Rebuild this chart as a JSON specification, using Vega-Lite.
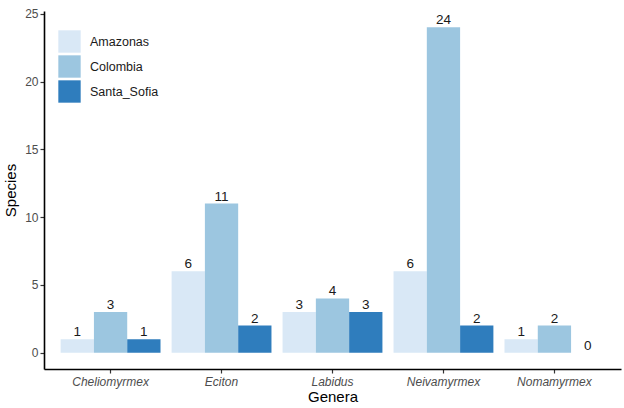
{
  "$schema": "https://vega.github.io/schema/vega-lite/v6.json",
  "width": 577,
  "height": 358,
  "autosize": "none",
  "padding": {"left": 44, "top": 11, "right": 3, "bottom": 39},
  "config": {
    "view": {"stroke": null},
    "font": "Liberation Sans",
    "axis": {
      "domainColor": "#000000",
      "domainWidth": 1.6,
      "tickColor": "#333333",
      "tickSize": 4,
      "tickWidth": 1.2,
      "labelColor": "#4d4d4d",
      "labelFontSize": 12,
      "titleColor": "#000000",
      "titleFontSize": 15,
      "titleFontWeight": "normal",
      "grid": false
    }
  },
  "data": {
    "values": [
      {"genus": "Cheliomyrmex", "site": "Amazonas", "species": 1},
      {"genus": "Cheliomyrmex", "site": "Colombia", "species": 3},
      {"genus": "Cheliomyrmex", "site": "Santa_Sofia", "species": 1},
      {"genus": "Eciton", "site": "Amazonas", "species": 6},
      {"genus": "Eciton", "site": "Colombia", "species": 11},
      {"genus": "Eciton", "site": "Santa_Sofia", "species": 2},
      {"genus": "Labidus", "site": "Amazonas", "species": 3},
      {"genus": "Labidus", "site": "Colombia", "species": 4},
      {"genus": "Labidus", "site": "Santa_Sofia", "species": 3},
      {"genus": "Neivamyrmex", "site": "Amazonas", "species": 6},
      {"genus": "Neivamyrmex", "site": "Colombia", "species": 24},
      {"genus": "Neivamyrmex", "site": "Santa_Sofia", "species": 2},
      {"genus": "Nomamyrmex", "site": "Amazonas", "species": 1},
      {"genus": "Nomamyrmex", "site": "Colombia", "species": 2},
      {"genus": "Nomamyrmex", "site": "Santa_Sofia", "species": 0}
    ]
  },
  "encoding": {
    "x": {
      "field": "genus",
      "type": "nominal",
      "sort": null,
      "scale": {"paddingInner": 0.1, "paddingOuter": 0.15},
      "axis": {
        "title": "Genera",
        "labelAngle": 0,
        "labelFontStyle": "italic",
        "labelPadding": 3,
        "titlePadding": 2
      }
    },
    "xOffset": {
      "field": "site",
      "type": "nominal",
      "scale": {"paddingInner": 0, "paddingOuter": 0}
    },
    "y": {
      "field": "species",
      "type": "quantitative",
      "scale": {"domain": [-1.2, 25.2], "nice": false, "zero": false},
      "axis": {
        "title": "Species",
        "values": [0, 5, 10, 15, 20, 25],
        "labelPadding": 2,
        "titlePadding": 6
      }
    }
  },
  "layer": [
    {
      "mark": {"type": "bar"},
      "encoding": {
        "y2": {"datum": 0},
        "color": {
          "field": "site",
          "type": "nominal",
          "scale": {
            "domain": ["Amazonas", "Colombia", "Santa_Sofia"],
            "range": ["#d9e8f6", "#9cc6e0", "#2f7dbd"]
          },
          "legend": {
            "title": null,
            "orient": "none",
            "legendX": 14,
            "legendY": 19,
            "symbolType": "square",
            "symbolSize": 500,
            "symbolStrokeWidth": 0,
            "symbolOpacity": 1,
            "rowPadding": 2,
            "labelFontSize": 12.5,
            "labelColor": "#1a1a1a",
            "labelOffset": 9
          }
        }
      }
    },
    {
      "mark": {"type": "text", "baseline": "alphabetic", "dy": -3, "fontSize": 13.5, "color": "#1a1a1a"},
      "encoding": {
        "text": {"field": "species", "type": "quantitative"}
      }
    }
  ]
}
